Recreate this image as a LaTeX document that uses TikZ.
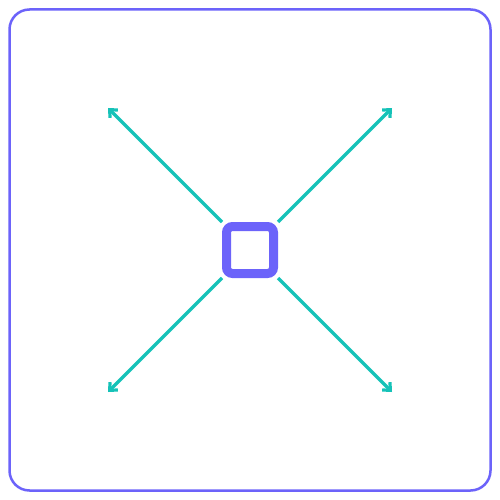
\documentclass[tikz,border=0pt]{standalone}
\usetikzlibrary{arrows.meta}
\definecolor{pur}{RGB}{108,99,250}
\definecolor{tea}{RGB}{22,194,184}
\begin{document}
\begin{tikzpicture}[x=1pt,y=-1pt,
  frame/.style={draw=pur,line width=2.5pt,rounded corners=20pt},
  hub/.style={draw=pur,line width=9pt,rounded corners=6pt},
  ray/.style={draw=tea,line width=3.2pt,-{Straight Barb[length=6pt,width=11pt,line width=3.2pt]}}]
\useasboundingbox (0,0) rectangle (500,500);
\draw[frame] (9.5,9.5) rectangle (490.5,490.5);
\draw[hub] (226.5,226.5) rectangle (273.5,273.5);
\coordinate (s1) at (222,222);
\coordinate (s2) at (278,222);
\coordinate (s3) at (222,278);
\coordinate (s4) at (278,278);
\coordinate (t1) at (108,108);
\coordinate (t2) at (392,108);
\coordinate (t3) at (108,392);
\coordinate (t4) at (392,392);
\draw[ray] (s1) -- (t1);
\draw[ray] (s2) -- (t2);
\draw[ray] (s3) -- (t3);
\draw[ray] (s4) -- (t4);
\end{tikzpicture}
\end{document}
